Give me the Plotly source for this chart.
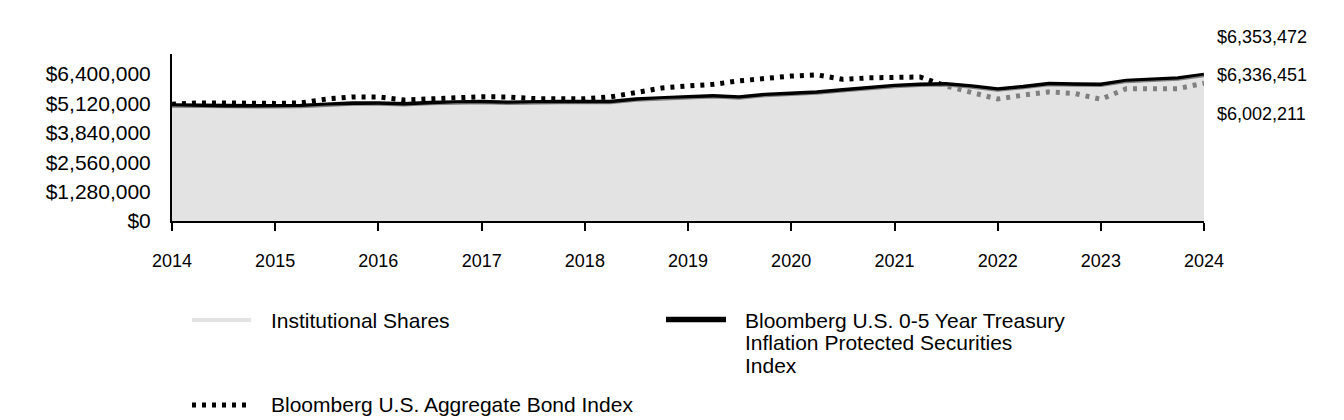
import plotly.graph_objects as go

# ---- data (quarterly) ----
dates = [f"{y}-{m:02d}-01" for y in range(2014, 2024) for m in (1, 4, 7, 10)] + ["2024-01-01"]

institutional = [5000000, 4960000, 4940000, 4940000, 4940000, 4960000, 5030000, 5060000,
                 5060000, 5030000, 5090000, 5130000, 5130000, 5100000, 5130000, 5130000,
                 5130000, 5130000, 5240000, 5310000, 5340000, 5380000, 5330000, 5440000,
                 5490000, 5540000, 5640000, 5740000, 5830000, 5880000, 5900000, 5810000,
                 5680000, 5780000, 5910000, 5890000, 5880000, 6060000, 6100000, 6160000,
                 6336451]

tips_0_5 = [5030000, 5010000, 4990000, 4990000, 4990000, 5010000, 5080000, 5110000,
            5110000, 5080000, 5140000, 5180000, 5180000, 5150000, 5180000, 5180000,
            5180000, 5180000, 5290000, 5360000, 5390000, 5430000, 5380000, 5490000,
            5540000, 5590000, 5690000, 5790000, 5880000, 5930000, 5950000, 5860000,
            5730000, 5830000, 5960000, 5940000, 5930000, 6100000, 6140000, 6200000,
            6353472]

aggregate = [5080000, 5140000, 5140000, 5120000, 5120000, 5140000, 5310000, 5400000,
             5400000, 5270000, 5330000, 5370000, 5410000, 5400000, 5330000, 5320000,
             5320000, 5400000, 5620000, 5790000, 5880000, 5950000, 6100000, 6230000,
             6310000, 6360000, 6170000, 6230000, 6240000, 6270000, 5880000, 5620000,
             5310000, 5480000, 5620000, 5550000, 5300000, 5760000, 5750000, 5760000,
             6002211]

names = ["Institutional Shares",
         "Bloomberg U.S. 0-5 Year Treasury Inflation Protected Securities Index",
         "Bloomberg U.S. Aggregate Bond Index"]
tips_label_lines = ["Bloomberg U.S. 0-5 Year Treasury", "Inflation Protected Securities", "Index"]

y_ticks = [0, 1280000, 2560000, 3840000, 5120000, 6400000]
y_ticktext = [f"${v:,}" for v in y_ticks]
x_ticks = [f"{y}-01-01" for y in range(2014, 2025)]
x_ticktext = [str(y) for y in range(2014, 2025)]

# ---- styling ----
FONT = "Liberation Sans, Arial, sans-serif"
FILL = "rgba(209,209,209,0.61)"
DOT_DASH = "4px,6px"

OFF = 8                      # page body margin of the browser
L, R, T, B = 172, 1204, 54, 221  # plot area in screen pixels
W_, H_ = 1344, 420


def px(x):
    return (x - L) / (R - L)


def py(y):
    return (B - y) / (B - T)


fig = go.Figure()
fig.add_trace(go.Scatter(x=dates, y=aggregate, name=names[2], mode="lines",
                         line=dict(color="black", width=5, dash=DOT_DASH), showlegend=False))
fig.add_trace(go.Scatter(x=dates, y=tips_0_5, name=names[1], mode="lines",
                         line=dict(color="black", width=4.5), showlegend=False))
fig.add_trace(go.Scatter(x=dates, y=institutional, name=names[0], mode="lines",
                         fill="tozeroy", fillcolor=FILL,
                         line=dict(color=FILL, width=0), showlegend=False))

shapes = [
    dict(type="line", xref="paper", yref="paper", x0=px(192), x1=px(251), y0=py(320), y1=py(320),
         line=dict(color=FILL, width=4)),
    dict(type="line", xref="paper", yref="paper", x0=px(666), x1=px(726), y0=py(319.5), y1=py(319.5),
         line=dict(color="black", width=5.5)),
    dict(type="line", xref="paper", yref="paper", x0=px(192), x1=px(248), y0=py(405), y1=py(405),
         line=dict(color="black", width=5, dash=DOT_DASH)),
]

annotations = []


def label(text, x, y, size, anchor="left"):
    annotations.append(dict(text=text, xref="paper", yref="paper", x=px(x), y=py(y),
                            xanchor=anchor, yanchor="middle", showarrow=False,
                            font=dict(family=FONT, size=size, color="black")))


label(names[0], 269, 320, 21)
for i, ln in enumerate(tips_label_lines):
    label(ln, 743, 320 + i * 22.5, 21)
label(names[2], 269, 405, 21)

label(f"${tips_0_5[-1]:,}", 1215, 37, 18)
label(f"${institutional[-1]:,}", 1215, 75, 18)
label(f"${aggregate[-1]:,}", 1215, 114, 18)

fig.update_layout(
    width=W_, height=H_,
    margin=dict(l=L - OFF, r=W_ - (R - OFF), t=T - OFF, b=H_ - (B - OFF), autoexpand=False),
    paper_bgcolor="white", plot_bgcolor="white",
    font=dict(family=FONT, color="black"),
    showlegend=False,
    shapes=shapes, annotations=annotations,
)
fig.update_xaxes(type="date", range=["2014-01-01", "2024-01-01"],
                 tickvals=x_ticks, ticktext=x_ticktext,
                 ticks="outside", ticklen=8, tickwidth=2, tickcolor="black",
                 showline=True, linecolor="black", linewidth=2,
                 showgrid=False, zeroline=False, automargin=False,
                 tickfont=dict(size=18, family=FONT, color="black"),
                 ticklabelstandoff=14)
fig.update_yaxes(range=[0, 7270000], tickvals=y_ticks, ticktext=y_ticktext,
                 ticks="", showline=True, linecolor="black", linewidth=2,
                 showgrid=False, zeroline=False, automargin=False,
                 tickfont=dict(size=21, family=FONT, color="black"),
                 ticklabelstandoff=15)

fig.write_html("out.html")
